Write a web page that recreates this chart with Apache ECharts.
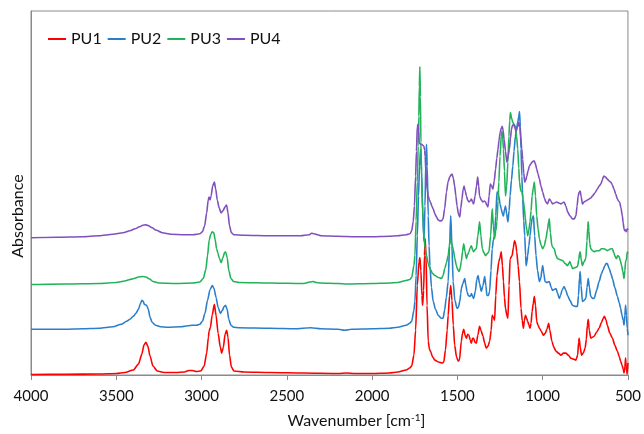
<!DOCTYPE html>
<html>
<head>
<meta charset="utf-8">
<script src="https://cdn.jsdelivr.net/npm/echarts@6/dist/echarts.min.js"></script>
<style>html,body{margin:0;padding:0;background:#fff;}#c{width:644px;height:434px;}</style>
</head>
<body>
<div id="c"></div>
<script>
// Wavenumber ticks (cm-1)
const xTicks = [4000, 3500, 3000, 2500, 2000, 1500, 1000, 500];
const seriesNames = ['PU1', 'PU2', 'PU3', 'PU4'];
const seriesColors = ['#FF0000', '#2A7FCB', '#22B35A', '#8050BC'];

// [wavenumber, absorbance (offset, arbitrary units)]
const PU1 = [[4000,0.5],[3800,0.8],[3600,1],[3500,1.5],[3450,2.5],[3400,5],[3370,11],[3350,21],[3338,30],[3326,33],[3315,29],[3302,19],[3285,9],[3260,4],[3220,2.5],[3150,2.5],[3100,3],[3075,4.5],[3055,4.5],[3030,3.5],[3005,4],[2985,9],[2970,22],[2960,38],[2956,44],[2948,48],[2938,60],[2925,71],[2915,60],[2903,42],[2890,28],[2882,22],[2872,28],[2862,41],[2853,45],[2845,38],[2836,20],[2825,8],[2810,4],[2750,3],[2600,2.5],[2400,2],[2200,1.5],[2150,2],[2100,1.5],[2000,1.5],[1900,2],[1850,3],[1800,5],[1780,7],[1768,9],[1755,20],[1745,45],[1735,90],[1725,114],[1720,118],[1714,105],[1708,80],[1704,70],[1698,85],[1693,120],[1689,137],[1684,120],[1678,70],[1671,34],[1664,26],[1658,24],[1645,18],[1632,15],[1610,13],[1590,12],[1580,13],[1570,25],[1560,45],[1554,60],[1546,80],[1539,90],[1532,75],[1524,50],[1516,30],[1505,18],[1495,14],[1488,15],[1477,34],[1470,42],[1463,46],[1455,40],[1447,37],[1440,41],[1432,40],[1425,35],[1418,32],[1411,37],[1405,37],[1397,33],[1389,32],[1380,40],[1370,49],[1362,45],[1350,39],[1340,32],[1331,27],[1320,29],[1311,34],[1302,45],[1296,60],[1289,58],[1282,55],[1275,80],[1268,100],[1257,114],[1250,118],[1243,124],[1236,110],[1230,94],[1224,78],[1218,67],[1210,60],[1204,57],[1197,90],[1191,117],[1179,120],[1172,128],[1165,135],[1158,132],[1152,124],[1144,110],[1136,94],[1127,67],[1120,55],[1113,47],[1107,55],[1101,60],[1094,57],[1088,54],[1080,50],[1074,47],[1068,52],[1062,64],[1055,72],[1049,79],[1042,70],[1035,54],[1027,50],[1019,47],[1008,44],[996,40],[985,42],[975,46],[965,52],[958,45],[946,34],[935,28],[922,24],[908,22],[893,20],[878,22],[864,22],[850,20],[835,17],[820,16],[805,15],[795,20],[789,33],[786,37],[780,28],[772,20],[762,22],[751,27],[744,36],[738,50],[733,56],[727,45],[718,37],[708,38],[698,39],[684,43],[669,47],[655,53],[645,57],[638,59],[628,55],[621,50],[606,42],[591,37],[577,30],[562,24],[550,18],[543,14],[535,10],[528,6],[523,2],[518,8],[514,17],[510,8],[505,1],[500,12]];

const PU2 = [[4000,46],[3800,46],[3700,46.5],[3600,47],[3520,48.5],[3470,51],[3440,54],[3420,56],[3400,59],[3385,62],[3370,66],[3358,72],[3350,75],[3342,74],[3335,71],[3322,70],[3312,66],[3302,58],[3290,53],[3270,50],[3240,48.5],[3200,48],[3120,48.5],[3080,49.5],[3055,50],[3030,50],[3010,51],[2995,54],[2980,62],[2965,75],[2950,86],[2937,90],[2927,87],[2915,78],[2903,68],[2890,62],[2878,65],[2867,69],[2859,70],[2850,66],[2840,56],[2828,50],[2812,48],[2780,47.5],[2600,47],[2450,46.5],[2360,47.5],[2300,46.5],[2200,46],[2160,45],[2120,46],[2000,46.5],[1900,47],[1850,48],[1800,50],[1780,52],[1768,54],[1755,65],[1749,74],[1742,100],[1735,140],[1728,180],[1722,210],[1716,227],[1710,205],[1704,165],[1698,140],[1696,135],[1690,170],[1685,215],[1681,232],[1677,210],[1671,160],[1666,130],[1661,110],[1652,88],[1642,74],[1628,66],[1613,60],[1595,57],[1584,57],[1575,65],[1565,78],[1554,94],[1546,130],[1539,160],[1532,130],[1525,94],[1515,75],[1502,67],[1494,68],[1486,74],[1480,82],[1477,87],[1468,92],[1457,97],[1450,90],[1444,84],[1436,80],[1428,79],[1422,80],[1418,82],[1411,79],[1405,77],[1395,84],[1386,96],[1379,100],[1370,92],[1360,84],[1350,90],[1340,99],[1333,90],[1327,80],[1318,80],[1311,84],[1303,105],[1296,127],[1289,136],[1282,140],[1275,160],[1268,184],[1262,184],[1257,180],[1250,172],[1243,167],[1236,162],[1230,160],[1224,166],[1218,170],[1211,162],[1204,154],[1197,165],[1191,180],[1183,196],[1175,210],[1168,225],[1160,240],[1153,248],[1146,254],[1140,260],[1136,265],[1131,250],[1127,227],[1122,200],[1117,177],[1111,155],[1105,140],[1100,120],[1097,110],[1092,114],[1088,120],[1081,130],[1074,140],[1068,150],[1062,157],[1054,160],[1047,140],[1039,120],[1030,105],[1019,94],[1010,98],[1005,105],[1000,110],[993,102],[986,94],[975,93],[961,94],[950,88],[942,85],[932,86],[922,87],[912,82],[903,77],[895,80],[885,86],[874,89],[864,85],[854,80],[840,75],[825,70],[810,69],[796,69],[790,80],[784,98],[780,104],[775,90],[767,74],[757,75],[747,77],[740,88],[733,97],[726,88],[718,79],[708,77],[698,77],[684,85],[669,94],[655,102],[645,106],[635,110],[628,112],[621,112],[610,107],[600,102],[591,97],[577,88],[562,79],[550,72],[543,67],[535,60],[528,55],[523,50],[518,60],[514,70],[509,60],[504,47],[500,40]];

const PU3 = [[4000,91],[3800,91.5],[3600,92],[3500,93],[3450,94.5],[3420,96],[3395,97],[3370,98.5],[3345,99],[3325,98.5],[3305,96.5],[3285,94],[3250,92.5],[3150,92],[3050,92.5],[3010,93.5],[2990,97],[2975,106],[2965,120],[2955,136],[2945,142],[2937,144],[2928,143],[2920,136],[2912,127],[2905,123],[2895,117],[2885,113],[2875,118],[2865,123],[2859,124],[2850,118],[2840,105],[2828,97],[2812,94],[2780,93],[2600,92.5],[2400,92],[2365,93.5],[2345,94],[2330,93],[2300,92.5],[2200,92],[2150,91.5],[2000,92],[1900,92.5],[1850,93],[1800,95],[1780,96],[1768,98],[1755,110],[1749,120],[1742,155],[1735,194],[1730,230],[1726,260],[1723,290],[1720,310],[1717,280],[1714,234],[1710,200],[1706,177],[1700,152],[1696,140],[1690,128],[1681,120],[1671,112],[1661,107],[1645,102],[1632,100],[1610,98],[1593,97],[1584,100],[1574,107],[1564,113],[1554,120],[1547,130],[1541,137],[1535,133],[1525,127],[1515,117],[1506,110],[1498,106],[1490,104],[1483,108],[1477,114],[1470,124],[1463,132],[1455,124],[1447,117],[1440,121],[1432,124],[1425,128],[1418,130],[1411,126],[1405,124],[1397,126],[1389,127],[1380,140],[1370,154],[1362,140],[1354,127],[1345,123],[1335,120],[1325,122],[1315,124],[1305,140],[1296,167],[1289,150],[1282,137],[1275,145],[1268,154],[1262,175],[1257,194],[1250,220],[1243,240],[1239,245],[1234,238],[1230,227],[1224,205],[1218,180],[1211,190],[1204,214],[1198,240],[1193,256],[1189,264],[1182,258],[1175,254],[1168,252],[1160,250],[1153,240],[1146,227],[1140,208],[1136,194],[1128,185],[1121,184],[1114,176],[1107,167],[1102,158],[1097,150],[1092,145],[1088,140],[1081,146],[1074,154],[1068,165],[1062,180],[1055,188],[1049,194],[1042,180],[1035,160],[1027,147],[1019,137],[1010,131],[1000,127],[990,130],[981,137],[972,146],[965,154],[961,157],[955,143],[946,130],[939,128],[932,127],[922,120],[913,117],[898,116],[883,115],[868,112],[854,110],[847,112],[840,114],[832,110],[825,107],[810,108],[796,109],[788,116],[784,122],[780,124],[774,116],[767,110],[757,114],[747,117],[740,135],[736,148],[733,154],[729,145],[724,132],[718,127],[708,125],[698,124],[684,125],[669,125],[655,127],[640,127],[630,126],[621,125],[610,126],[600,127],[591,127],[583,123],[575,119],[568,117],[560,120],[552,119],[545,115],[537,110],[530,104],[523,97],[518,105],[514,114],[509,116],[504,124],[500,122]];

const PU4 = [[4000,138],[3850,138.5],[3700,139],[3600,140],[3520,141.5],[3460,143],[3420,145],[3390,147],[3365,149],[3345,150.5],[3326,151],[3310,150],[3290,148],[3265,145.5],[3230,143],[3180,141.5],[3100,141],[3050,141],[3010,142],[2995,144],[2982,150],[2970,163],[2961,176],[2956,179],[2950,176],[2944,180],[2935,190],[2925,194],[2917,187],[2908,176],[2897,168],[2885,163],[2875,165],[2862,169],[2853,171],[2845,163],[2836,150],[2825,143],[2810,141],[2750,140.5],[2600,140],[2420,140],[2370,141],[2355,142.5],[2340,142],[2320,141],[2300,140],[2200,139.5],[2100,139],[2000,139],[1900,139.5],[1850,140],[1800,141],[1778,142],[1768,145],[1759,154],[1752,170],[1745,200],[1740,225],[1735,250],[1731,252],[1727,245],[1724,234],[1717,232],[1710,232],[1703,231],[1696,230],[1692,226],[1689,220],[1685,205],[1681,194],[1676,186],[1671,180],[1664,176],[1658,174],[1650,170],[1642,167],[1632,162],[1623,159],[1613,156],[1603,155],[1594,155],[1584,157],[1575,167],[1564,184],[1555,194],[1545,199],[1538,201],[1531,202],[1524,198],[1516,190],[1509,180],[1502,170],[1494,162],[1486,159],[1480,168],[1473,177],[1467,186],[1461,190],[1454,185],[1447,180],[1440,176],[1432,174],[1425,175],[1418,177],[1411,174],[1405,172],[1396,180],[1388,190],[1381,199],[1375,190],[1370,180],[1360,176],[1350,174],[1342,175],[1335,174],[1328,171],[1321,169],[1314,180],[1307,192],[1300,190],[1292,187],[1284,195],[1276,207],[1269,218],[1262,227],[1256,236],[1249,244],[1243,248],[1237,250],[1232,246],[1226,237],[1218,225],[1210,214],[1203,220],[1195,227],[1189,238],[1183,247],[1177,251],[1171,252],[1164,249],[1156,245],[1148,249],[1140,254],[1134,249],[1129,240],[1123,228],[1117,217],[1111,203],[1105,194],[1099,196],[1093,200],[1086,205],[1078,210],[1070,212],[1062,214],[1055,215],[1049,215],[1042,212],[1035,207],[1027,202],[1019,197],[1010,190],[1000,184],[990,178],[981,174],[972,172],[961,177],[952,175],[942,172],[930,173],[918,174],[905,173],[893,172],[884,173],[874,174],[864,170],[854,164],[840,160],[825,157],[815,157],[805,160],[798,170],[792,180],[786,184],[780,185],[774,179],[767,172],[757,174],[747,175],[737,176],[727,177],[718,178],[708,180],[694,183],[679,187],[669,190],[659,192],[650,196],[645,199],[640,200],[632,199],[621,197],[610,195],[601,194],[591,191],[582,187],[572,182],[562,177],[555,175],[549,174],[541,168],[533,160],[528,153],[523,147],[518,145],[514,146],[509,144],[504,147],[500,146]];

const seriesData = [PU1, PU2, PU3, PU4];
const FONT = 'Lato';

const chart = echarts.init(document.getElementById('c'), null, {renderer: 'canvas'});
chart.setOption({
  animation: false,
  backgroundColor: '#ffffff',
  grid: {left: 31, right: 16, top: 11, bottom: 57, show: true, borderColor: '#8a8a8a', borderWidth: 1, backgroundColor: 'transparent'},
  legend: {
    left: 43, top: 26, icon: 'rect', itemWidth: 18, itemHeight: 2, itemGap: 6,
    textStyle: {fontFamily: FONT, fontSize: 16, color: '#111'},
    data: seriesNames
  },
  xAxis: {
    type: 'value', inverse: true, min: 500, max: 4000, interval: 500,
    axisLine: {show: true, lineStyle: {color: '#8a8a8a', width: 1}},
    axisTick: {show: true, inside: false, length: 5, lineStyle: {color: '#8a8a8a'}},
    axisLabel: {fontFamily: FONT, fontSize: 15, color: '#111', margin: 14,
      formatter: v => xTicks.indexOf(v) >= 0 ? String(v) : ''},
    splitLine: {show: false},
    name: 'Wavenumber [cm{s|-1}]',
    nameLocation: 'middle', nameGap: 38,
    nameTextStyle: {fontFamily: FONT, fontSize: 16, color: '#111', padding: [0, 0, 0, 54],
      rich: {s: {fontFamily: FONT, fontSize: 10, color: '#111', verticalAlign: 'top', padding: [0, 0, 6, 0]}}}
  },
  yAxis: {
    type: 'value', min: 0, max: 366,
    axisLine: {show: true, lineStyle: {color: '#8a8a8a'}},
    axisTick: {show: false}, axisLabel: {show: false}, splitLine: {show: false},
    name: 'Absorbance', nameLocation: 'middle', nameGap: 5, nameRotate: 90,
    nameTextStyle: {fontFamily: FONT, fontSize: 16, color: '#111', padding: [0, 46, 0, 0]}
  },
  series: seriesNames.map((n, i) => ({
    name: n, type: 'line', data: seriesData[i], showSymbol: false, symbol: 'none',
    smooth: 0.25, smoothMonotone: 'x',
    lineStyle: {color: seriesColors[i], width: 1.6},
    itemStyle: {color: seriesColors[i]}
  }))
});
</script>
</body>
</html>
